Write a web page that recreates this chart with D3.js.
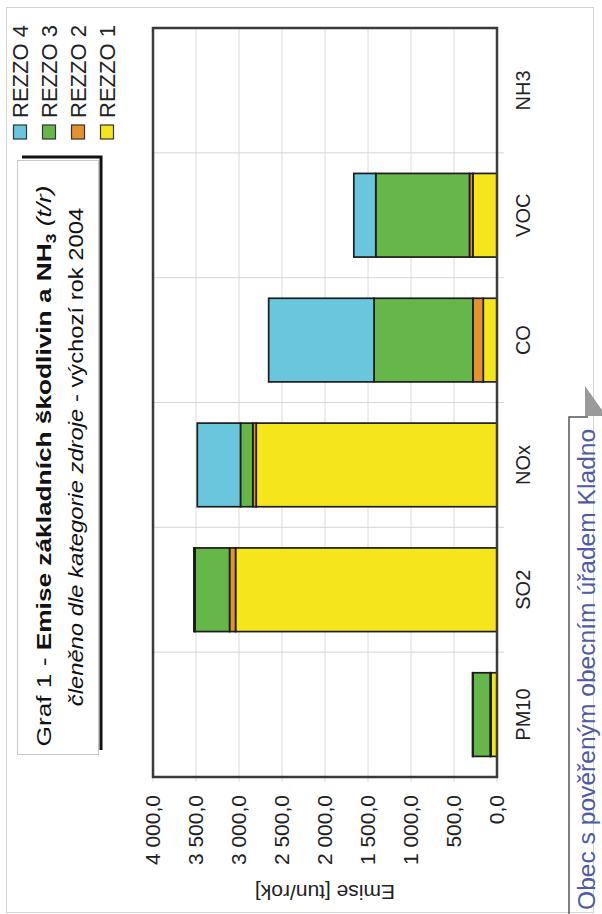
<!DOCTYPE html>
<html>
<head>
<meta charset="utf-8">
<script src="https://cdn.jsdelivr.net/npm/d3@7"></script>
<style>
  html, body { margin: 0; padding: 0; background: #fff; }
  svg { display: block; font-family: "Liberation Sans", Arial, sans-serif; }
</style>
</head>
<body>
<svg id="chart" width="602" height="914"></svg>
<script>
// Emissions by pollutant, stacked by source category (REZZO 1–4), tonnes per year
const categories = ["PM10", "SO2", "NOx", "CO", "VOC", "NH3"];
const rezzo1 = [70, 3040, 2800, 160, 280, 0];
const rezzo2 = [10, 70, 40, 120, 40, 0];
const rezzo3 = [200, 400, 143, 1150, 1090, 0];
const rezzo4 = [5, 15, 502, 1225, 255, 0];
const seriesNames = ["REZZO 1", "REZZO 2", "REZZO 3", "REZZO 4"];
const seriesColors = ["#f4e61a", "#e3922c", "#66b74a", "#6ac6dc"];
const valueTicks = [0, 500, 1000, 1500, 2000, 2500, 3000, 3500, 4000];

const svg = d3.select("#chart");

// thin outer page border
svg.append("rect").attr("x", 6.5).attr("y", 7.5).attr("width", 587).attr("height", 905)
  .attr("fill", "none").attr("stroke", "#d4d4d4").attr("stroke-width", 1);

// ---- plot: laid out as an ordinary column chart, then turned a quarter turn ----
const W = 749, H = 344;
const plot = svg.append("g").attr("transform", "translate(153,777) rotate(-90)");

const x = d3.scaleBand().domain(categories).range([0, W]).paddingInner(0.33).paddingOuter(0.165);
const y = d3.scaleLinear().domain([0, 4000]).range([H, 0]);

const table = categories.map((c, i) => ({
  cat: c, "REZZO 1": rezzo1[i], "REZZO 2": rezzo2[i], "REZZO 3": rezzo3[i], "REZZO 4": rezzo4[i]
}));
const stacked = d3.stack().keys(seriesNames)(table);

// value grid lines (with short ticks beyond the frame)
plot.append("g").selectAll("line").data(valueTicks).join("line")
  .attr("x1", -5).attr("x2", W)
  .attr("y1", d => y(d)).attr("y2", d => y(d))
  .attr("stroke", "#dcdcdc").attr("stroke-width", 1);

// category separators
const step = x.step();
const seps = d3.range(1, categories.length).map(i => x(categories[i]) - step * x.paddingInner() / 2);
plot.append("g").selectAll("line").data(seps).join("line")
  .attr("x1", d => d).attr("x2", d => d)
  .attr("y1", 0).attr("y2", H + 7)
  .attr("stroke", "#d6d6d6").attr("stroke-width", 1);

// stacked bars
plot.append("g").selectAll("g").data(stacked).join("g")
  .attr("fill", (d, i) => seriesColors[i])
  .selectAll("rect").data(d => d.filter(p => p[1] - p[0] > 0)).join("rect")
  .attr("x", d => x(d.data.cat))
  .attr("width", x.bandwidth())
  .attr("y", d => y(d[1]))
  .attr("height", d => y(d[0]) - y(d[1]))
  .attr("stroke", "#1c1c1c").attr("stroke-width", 1.7);

// frame
plot.append("rect").attr("x", 0).attr("y", 0).attr("width", W).attr("height", H)
  .attr("fill", "none").attr("stroke", "#3a3a3a").attr("stroke-width", 2.5);

// value axis (Czech number format)
const cz = d3.formatLocale({ decimal: ",", thousands: "\u00a0", grouping: [3], currency: ["", " Kč"] });
const fmt = cz.format(",.1f");
const yAxis = plot.append("g")
  .call(d3.axisLeft(y).tickValues(valueTicks).tickFormat(fmt).tickSize(0).tickPadding(18));
yAxis.select(".domain").remove();
yAxis.selectAll("text").attr("font-size", 21).attr("fill", "#222")
  .attr("font-family", "'Liberation Sans', Arial, sans-serif");

// category axis
const xAxis = plot.append("g").attr("transform", `translate(0,${H})`)
  .call(d3.axisBottom(x).tickSize(0).tickPadding(19));
xAxis.select(".domain").remove();
xAxis.selectAll("text").attr("font-size", 20).attr("fill", "#222")
  .attr("font-family", "'Liberation Sans', Arial, sans-serif");

// value axis title
plot.append("text")
  .attr("transform", `translate(-108,${H / 2}) rotate(-90)`)
  .attr("text-anchor", "middle")
  .attr("font-size", 21).attr("fill", "#222")
  .text("Emise [tun/rok]");

// ---- legend ----
const legendOrder = [3, 2, 1, 0];
const legend = svg.append("g");
legendOrder.forEach((si, k) => {
  const cx = 20 + k * 29;
  legend.append("rect").attr("x", cx - 6.5).attr("y", 125).attr("width", 13).attr("height", 14)
    .attr("fill", seriesColors[si]).attr("stroke", "#333").attr("stroke-width", 1.2);
  legend.append("text")
    .attr("transform", `translate(${cx + 8},118) rotate(-90)`)
    .attr("font-size", 22).attr("fill", "#222")
    .text(seriesNames[si]);
});

// ---- title box ----
const tb = svg.append("g");
tb.append("rect").attr("x", 17.5).attr("y", 160.5).attr("width", 81).attr("height", 594)
  .attr("fill", "#fff").attr("stroke", "#c8c8c8").attr("stroke-width", 1);
tb.append("path").attr("d", "M22,157 H101 V750")
  .attr("fill", "none").attr("stroke", "#111").attr("stroke-width", 3);

// title lines are set slightly wide along the baseline
const t1 = tb.append("text")
  .attr("transform", "translate(51,466) rotate(-90) scale(1.25,1)")
  .attr("text-anchor", "middle").attr("font-size", 21).attr("fill", "#111");
t1.append("tspan").text("Graf 1 - ");
t1.append("tspan").attr("font-weight", "bold").text("Emise základních škodlivin a NH");
t1.append("tspan").attr("font-weight", "bold").attr("font-size", 14).attr("dy", 5).text("3");
t1.append("tspan").attr("dy", -5).attr("font-style", "italic").text(" (t/r)");

const t2 = tb.append("text")
  .attr("transform", "translate(83,457) rotate(-90) scale(1.19,1)")
  .attr("text-anchor", "middle").attr("font-size", 20).attr("fill", "#111");
t2.append("tspan").attr("font-style", "italic").text("členěno dle kategorie zdroje");
t2.append("tspan").text(" - výchozí rok 2004");

// ---- side tab ----
const tab = svg.append("g");
tab.append("path").attr("d", "M569,914 V417 H588")
  .attr("fill", "none").attr("stroke", "#555").attr("stroke-width", 1.5);
tab.append("path").attr("d", "M585,386 L602,410 L602,416 L585,416 Z").attr("fill", "#9a9a9a");
tab.append("text")
  .attr("transform", "translate(595,910) rotate(-90)")
  .attr("font-size", 24.6).attr("fill", "#4d5aa8")
  .text("Obec s pověřeným obecním úřadem Kladno");
</script>
</body>
</html>
